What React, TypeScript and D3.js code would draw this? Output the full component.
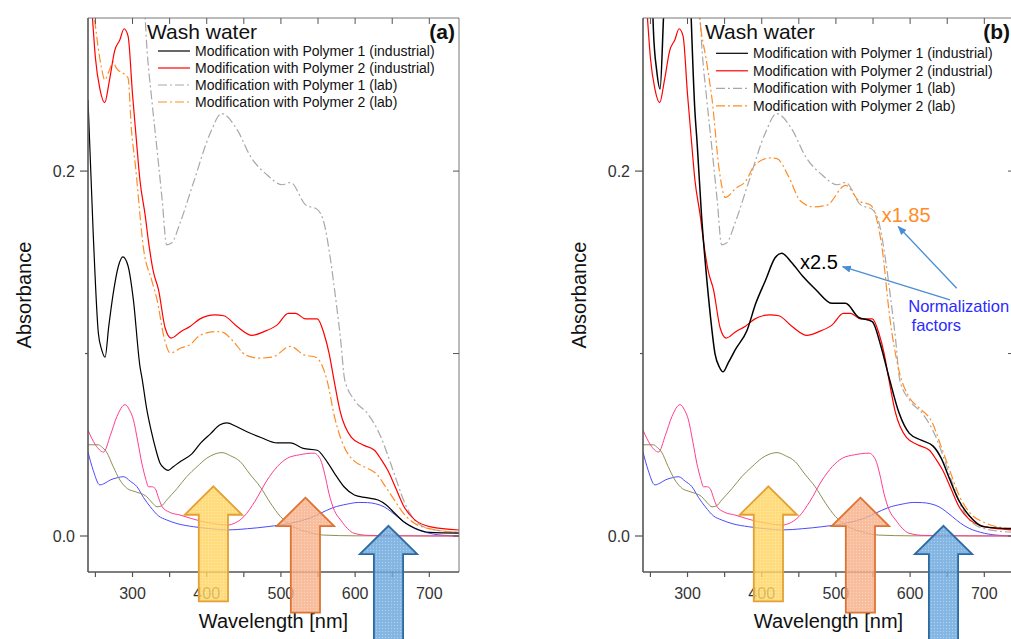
import React from 'react';
import * as d3 from 'd3';

// wavelength [nm], absorbance (panel a, raw)
const polymer1Industrial = [
  [240, 0.239], [247, 0.166], [254, 0.111], [258.5, 0.102], [263, 0.098], [268, 0.115], [274, 0.133],
  [281, 0.148], [287, 0.153], [294, 0.148], [301, 0.13], [310, 0.093], [313, 0.086], [319, 0.07],
  [325, 0.058], [331, 0.048], [337, 0.04], [343, 0.037], [348, 0.036], [355, 0.038], [365, 0.041],
  [380, 0.045], [392, 0.051], [405, 0.056], [418, 0.061], [427, 0.062], [440, 0.06], [455, 0.057],
  [473, 0.054], [495, 0.051], [513, 0.051], [530, 0.048], [549, 0.047], [560, 0.042], [572, 0.0345],
  [585, 0.027], [599, 0.0225], [615, 0.021], [631, 0.0197], [642, 0.017], [653, 0.0126], [665, 0.008],
  [680, 0.0044], [700, 0.002], [740, 0.0016],
];
const polymer2Industrial = [
  [240, 0.32], [246, 0.284], [250, 0.262], [256, 0.245], [262.5, 0.2375], [269, 0.25], [276, 0.266],
  [283, 0.272], [288.6, 0.278], [294, 0.274], [300, 0.242], [305, 0.218], [310, 0.195], [317, 0.176],
  [322, 0.16], [328, 0.145], [335, 0.135], [344, 0.114], [352, 0.1085], [365, 0.112], [378, 0.115],
  [391, 0.119], [411, 0.1212], [423, 0.1207], [441, 0.1148], [461, 0.11], [477, 0.112], [495, 0.1157],
  [510, 0.122], [520, 0.122], [533, 0.119], [549, 0.119], [558, 0.111], [565, 0.1], [571.5, 0.0856],
  [580, 0.068], [595, 0.054], [610, 0.05], [626, 0.047], [635, 0.042], [644, 0.036], [655, 0.026],
  [666, 0.016], [680, 0.009], [702, 0.005], [740, 0.0033],
];
const polymer1Lab = [
  [314, 0.3], [317, 0.284], [319, 0.27], [326, 0.239], [333, 0.212], [340, 0.184], [346, 0.1596],
  [353, 0.1607], [364, 0.1715], [382, 0.1935], [405, 0.221], [420, 0.2315], [441, 0.2227], [459, 0.208],
  [481, 0.198], [502, 0.1925], [513, 0.1938], [533, 0.1816], [549, 0.179], [558, 0.1717], [567, 0.151],
  [574, 0.1295], [580.5, 0.1075], [586, 0.0856], [600, 0.074], [617, 0.067], [635, 0.054], [646, 0.042],
  [657, 0.029], [668, 0.017], [680, 0.0088], [700, 0.004], [740, 0.002],
];
const polymer2Lab = [
  [240, 0.32], [249, 0.283], [258, 0.257], [262.5, 0.25], [269, 0.2556], [274, 0.26], [278, 0.2566],
  [289.6, 0.2529], [294, 0.251], [298.5, 0.223], [304, 0.2026], [315, 0.157], [326, 0.14], [333, 0.1295],
  [343, 0.108], [351, 0.1003], [365, 0.103], [378, 0.105], [391, 0.11], [411.6, 0.112], [420.6, 0.1118],
  [436, 0.1066], [452, 0.0993], [470, 0.0975], [488, 0.098], [513, 0.1039], [531, 0.0993], [547, 0.098],
  [556, 0.0929], [562, 0.0856], [573, 0.064], [585, 0.049], [599, 0.041], [612, 0.038], [630, 0.0335],
  [641, 0.027], [653, 0.0197], [666, 0.012], [680, 0.007], [700, 0.004], [740, 0.002],
];
// reference dye spectra (thin lines)
const pinkRef = [
  [240, 0.058], [250, 0.05], [261, 0.046], [270, 0.055], [279, 0.0655], [290, 0.072], [296, 0.069],
  [301, 0.064], [307, 0.052], [312.5, 0.04], [318, 0.031], [321.5, 0.027], [326, 0.027], [330.5, 0.026],
  [335, 0.021], [340, 0.016], [350, 0.013], [364, 0.0115], [380, 0.0095], [396, 0.0078], [410, 0.0068],
  [427, 0.006], [440, 0.0075], [450, 0.0106], [465, 0.019], [481.5, 0.0307], [495, 0.038], [508.5, 0.0426],
  [525, 0.0445], [544.5, 0.0454], [553.5, 0.0417], [559, 0.034], [564.7, 0.0234], [572, 0.014],
  [580.5, 0.0088], [590, 0.004], [598.5, 0.0015], [620, 0.0003], [740, 0],
];
const oliveRef = [
  [240, 0.05], [254, 0.05], [258, 0.049], [265, 0.046], [274, 0.038], [283, 0.0307], [293, 0.026],
  [303.5, 0.0243], [319, 0.0216], [327, 0.018], [333, 0.016], [339, 0.0165], [346, 0.0197], [360, 0.026],
  [373, 0.0325], [387, 0.038], [400, 0.0426], [410, 0.0448], [420.6, 0.0457], [432, 0.044], [445, 0.0408],
  [458, 0.034], [472, 0.027], [486, 0.018], [499.5, 0.0106], [513, 0.006], [526.5, 0.0033], [540, 0.0018],
  [557.6, 0.0005], [600, 0.0001], [740, 0],
];
const blueRef = [
  [240, 0.046], [247, 0.036], [256, 0.028], [263, 0.029], [270, 0.0307], [280, 0.032], [288, 0.0325],
  [297, 0.03], [306, 0.027], [315, 0.021], [324, 0.016], [335, 0.011], [346, 0.0088], [360, 0.0068],
  [382, 0.0051], [405, 0.004], [427, 0.0033], [455, 0.004], [481.5, 0.0051], [522, 0.0078], [540, 0.01],
  [553.5, 0.0125], [570, 0.0155], [589.6, 0.0175], [605, 0.0184], [616.6, 0.0183], [628, 0.0176],
  [639, 0.016], [648, 0.0135], [657, 0.0106], [668, 0.007], [679.6, 0.0042], [695, 0.002], [715.7, 0.0005],
  [740, 0],
];

// normalization factors used in panel (b)
const factorPolymer1Industrial = 2.5;
const factorPolymer2Lab = 1.85;

const legendLabels = [
  'Modification with Polymer 1 (industrial)',
  'Modification with Polymer 2 (industrial)',
  'Modification with Polymer 1 (lab)',
  'Modification with Polymer 2 (lab)',
];
const xTicks = [300, 400, 500, 600, 700];
const xMinorTicks = [250, 350, 450, 550, 650];
const yTicks = [0.0, 0.2];
const yMinorTicks = [0.1];

// big block arrows: wavelength and absorbance of the tip
const arrowLambdas = [409, 533, 645];
const arrowTips = [0.0272, 0.021, 0.0056];

const FONT = 'Liberation Sans, Arial, Helvetica, sans-serif';
const W = 1011;
const H = 639;
const TOP = 18;
const BOTTOM = 572;

const styles = [
  { color: '#000000', dash: null, width: 1.2 },
  { color: '#ff0000', dash: null, width: 1.2 },
  { color: '#a8a8a8', dash: '9,3,2,3', width: 1.2 },
  { color: '#ff8c26', dash: '9,3,2,3', width: 1.2 },
];
const arrowStyles = [
  { fill: '#ffd45e', stroke: '#e3a035', id: 'dotY' },
  { fill: '#f7ae86', stroke: '#de7434', id: 'dotO' },
  { fill: '#67a5dc', stroke: '#2d6aa3', id: 'dotB' },
];

function Panel({ left, tag, normalized, legendX, legendY, legendStep, labelX }) {
  const right = left + 371;
  const x = d3.scaleLinear().domain([240, 740]).range([left, right]);
  const y = d3.scaleLinear().domain([-0.01973, 0.2839]).range([BOTTOM, TOP]);
  const mk = (k) =>
    d3.line().x((d) => x(d[0])).y((d) => y(d[1] * k)).curve(d3.curveMonotoneX);

  const main = [
    { data: polymer1Industrial, k: normalized ? factorPolymer1Industrial : 1, s: styles[0] },
    { data: polymer2Industrial, k: 1, s: styles[1] },
    { data: polymer1Lab, k: 1, s: styles[2] },
    { data: polymer2Lab, k: normalized ? factorPolymer2Lab : 1, s: styles[3] },
  ];
  const refs = [
    { data: blueRef, color: '#4a4aff' },
    { data: oliveRef, color: '#8f8f52' },
    { data: pinkRef, color: '#ff3d8e' },
  ];
  const clipId = 'clip-' + tag;

  return (
    <g>
      <defs>
        <clipPath id={clipId}>
          <rect x={left} y={TOP} width={right - left} height={BOTTOM - TOP} />
        </clipPath>
      </defs>

      <g clipPath={`url(#${clipId})`}>
        {refs.map((r, i) => (
          <path key={'r' + i} d={mk(1)(r.data)} fill="none" stroke={r.color} strokeWidth={1} />
        ))}
        {[2, 3, 1, 0].map((i) => (
          <path
            key={'m' + i}
            d={mk(main[i].k)(main[i].data)}
            fill="none"
            stroke={main[i].s.color}
            strokeWidth={normalized && i === 0 ? 1.5 : main[i].s.width}
            strokeDasharray={main[i].s.dash || undefined}
          />
        ))}
      </g>

      {/* frame */}
      <line x1={left} x2={right} y1={TOP} y2={TOP} stroke="#777" strokeWidth={1} />
      <line x1={right} x2={right} y1={TOP} y2={BOTTOM} stroke="#777" strokeWidth={1} />
      <line x1={left} x2={left} y1={TOP} y2={BOTTOM} stroke="#555" strokeWidth={1.6} />
      <line x1={left} x2={right} y1={BOTTOM} y2={BOTTOM} stroke="#555" strokeWidth={1.6} />

      {/* x ticks */}
      {xTicks.concat(xMinorTicks).map((t) => (
        <g key={'xt' + t}>
          <line x1={x(t)} x2={x(t)} y1={BOTTOM} y2={BOTTOM + 5} stroke="#555" strokeWidth={1.2} />
          <line x1={x(t)} x2={x(t)} y1={TOP} y2={TOP + 6} stroke="#555" strokeWidth={1} />
        </g>
      ))}
      {xTicks.map((t) => (
        <text key={'xl' + t} x={x(t)} y={599} fontSize={16} textAnchor="middle" fill="#333" fontFamily={FONT}>
          {t}
        </text>
      ))}
      {/* y ticks */}
      {yTicks.concat(yMinorTicks).map((t) => (
        <g key={'yt' + t}>
          <line
            x1={left - (yMinorTicks.includes(t) ? 3 : 8)}
            x2={left}
            y1={y(t)}
            y2={y(t)}
            stroke="#555"
            strokeWidth={1.2}
          />
          <line x1={right - 6} x2={right} y1={y(t)} y2={y(t)} stroke="#555" strokeWidth={1} />
        </g>
      ))}
      {yTicks.map((t) => (
        <text key={'yl' + t} x={left - 13} y={y(t) + 6} fontSize={16} textAnchor="end" fill="#333" fontFamily={FONT}>
          {d3.format('.1f')(t)}
        </text>
      ))}

      {/* axis titles */}
      <text
        transform={`translate(${labelX},295) rotate(-90)`}
        fontSize={20}
        textAnchor="middle"
        fill="#111"
        fontFamily={FONT}
      >
        Absorbance
      </text>
      <text x={(left + right) / 2} y={628} fontSize={20} textAnchor="middle" fill="#111" fontFamily={FONT}>
        Wavelength [nm]
      </text>

      {/* legend */}
      <text x={legendX - 11} y={39} fontSize={21} fill="#111" fontFamily={FONT}>
        Wash water
      </text>
      <text x={right - 4} y={39} fontSize={21} fontWeight="bold" textAnchor="end" fill="#111" fontFamily={FONT}>
        ({tag})
      </text>
      {legendLabels.map((l, i) => {
        const ly = legendY + i * legendStep;
        return (
          <g key={'lg' + i}>
            <line
              x1={legendX}
              x2={legendX + 32}
              y1={ly}
              y2={ly}
              stroke={styles[i].color}
              strokeWidth={1.2}
              strokeDasharray={styles[i].dash || undefined}
            />
            <text x={legendX + 37} y={ly + 5} fontSize={14} fill="#111" fontFamily={FONT}>
              {l}
            </text>
          </g>
        );
      })}

      {/* block arrows */}
      {arrowLambdas.map((lam, i) => {
        const tx = x(lam);
        const ty = y(arrowTips[i]);
        const hw = 28.7, hh = 28.4, sw = 14.6, L = 115;
        const p = `M${tx},${ty} L${tx + hw},${ty + hh} L${tx + sw},${ty + hh} L${tx + sw},${ty + L} L${tx - sw},${ty + L} L${tx - sw},${ty + hh} L${tx - hw},${ty + hh} Z`;
        return (
          <path
            key={'ar' + i}
            d={p}
            fill={`url(#${arrowStyles[i].id})`}
            fillOpacity={0.82}
            stroke={arrowStyles[i].stroke}
            strokeWidth={1.8}
            strokeLinejoin="miter"
          />
        );
      })}

      {normalized && <Annotations x={x} y={y} />}
    </g>
  );
}

const noteColorArrow = '#4a8dd2';
function Annotations({ x, y }) {
  const a1 = [[662.8, 0.1358], [584, 0.1696]];
  const a2 = [[653.7, 0.1294], [509.1, 0.1476]];
  return (
    <g>
      <text x={x(451.6)} y={y(0.1462)} fontSize={20} fill="#000" fontFamily={FONT}>
        x{factorPolymer1Industrial}
      </text>
      <text x={x(561.7)} y={y(0.1723)} fontSize={20} fill="#ff8c26" fontFamily={FONT}>
        x{factorPolymer2Lab}
      </text>
      {[a1, a2].map((a, i) => (
        <line
          key={'na' + i}
          x1={x(a[0][0])}
          y1={y(a[0][1])}
          x2={x(a[1][0])}
          y2={y(a[1][1])}
          stroke={noteColorArrow}
          strokeWidth={1.3}
          markerEnd="url(#noteHead)"
        />
      ))}
      <text x={x(597.5)} y={y(0.1225)} fontSize={16.5} fill="#2b2bff" fontFamily={FONT}>
        Normalization
      </text>
      <text x={x(602)} y={y(0.1126)} fontSize={16.5} fill="#2b2bff" fontFamily={FONT}>
        factors
      </text>
    </g>
  );
}

export default function App() {
  return (
    <svg
      width={W}
      height={H}
      style={{ position: 'absolute', left: 0, top: 0, background: '#fff' }}
      xmlns="http://www.w3.org/2000/svg"
    >
      <defs>
        {arrowStyles.map((a) => (
          <pattern key={a.id} id={a.id} width={3} height={3} patternUnits="userSpaceOnUse">
            <rect width={3} height={3} fill={a.fill} />
            <circle cx={1.5} cy={1.5} r={0.7} fill="#fff" opacity={0.35} />
          </pattern>
        ))}
        <marker id="noteHead" viewBox="0 0 10 10" refX={9} refY={5} markerWidth={7} markerHeight={7} orient="auto">
          <path d="M0,1 L10,5 L0,9 Z" fill={noteColorArrow} />
        </marker>
      </defs>
      <rect width={W} height={H} fill="#fff" />
      <Panel left={88} tag="a" normalized={false} legendX={158} legendY={51} legendStep={17} labelX={31} />
      <Panel left={643} tag="b" normalized={true} legendX={716} legendY={53.3} legendStep={17.5} labelX={586} />
    </svg>
  );
}
